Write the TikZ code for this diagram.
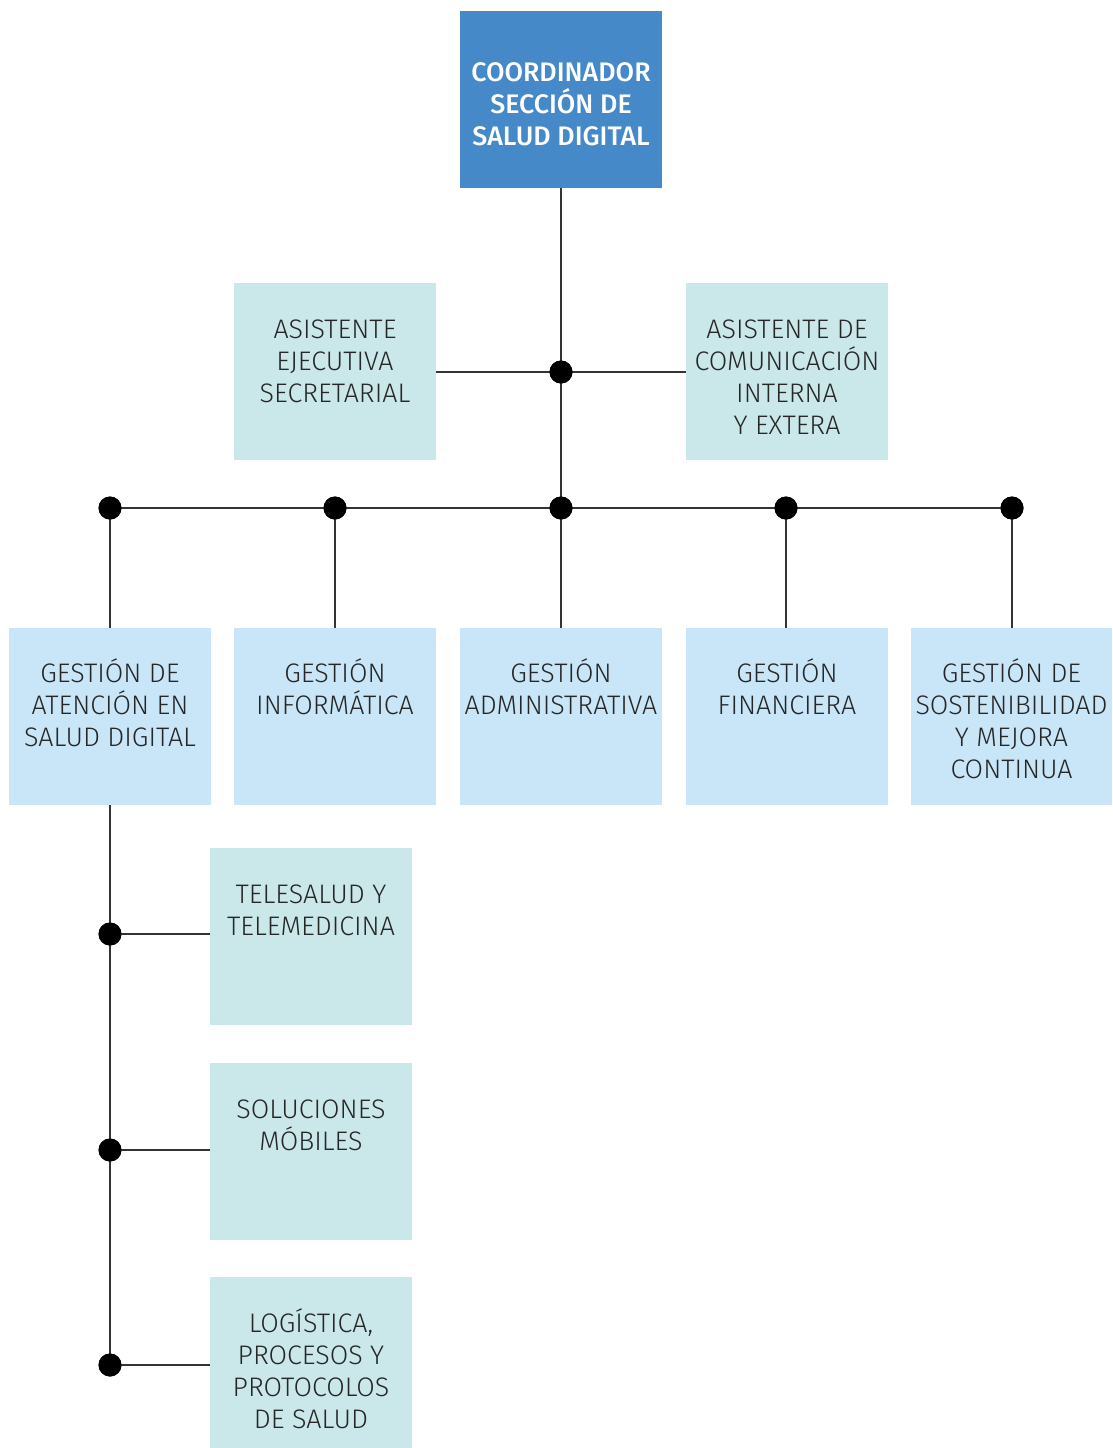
\documentclass[tikz,border=0pt]{standalone}
\usepackage{fontspec}
\setmainfont{Fira Sans}[UprightFont=* Light, BoldFont=* Medium]
\definecolor{topblue}{HTML}{4589C9}
\definecolor{teal}{HTML}{CAE7E9}
\definecolor{lblue}{HTML}{C8E6F8}
\definecolor{linec}{HTML}{333333}
\newcommand\lines[1]{\vtop{\baselineskip=32pt\lineskiplimit=-1000pt\lineskip=0pt\halign{\hfil##\hfil\cr#1\crcr}}}
\begin{document}
\begin{tikzpicture}[x=1pt,y=-1pt,
  bx/.style={minimum width=202pt, minimum height=177pt, inner sep=0pt, anchor=north west, outer sep=0pt},
  topbox/.style={bx, fill=topblue},
  asst/.style={bx, fill=teal},
  gest/.style={bx, fill=lblue},
  txt/.style={anchor=base, inner sep=0pt, font=\fontsize{26.8}{32}\selectfont, text=black!85},
  toptxt/.style={txt, font=\fontsize{26.8}{32}\selectfont\bfseries, text=white},
  conn/.style={draw=linec, line width=1.5pt},
  dot/.style={circle, fill=black, minimum size=23pt, inner sep=0pt}]
\useasboundingbox (0,0) rectangle (1112,1448);
% boxes
\node[topbox] (top) at (460,11) {};
\node[asst] (a1) at (234,283) {};
\node[asst] (a2) at (686,283) {};
\node[gest] (g1) at (9,628) {};
\node[gest] (g2) at (234,628) {};
\node[gest] (g3) at (460,628) {};
\node[gest] (g4) at (686,628) {};
\node[gest, minimum width=201pt] (g5) at (911,628) {};
\node[asst] (s1) at (210,848) {};
\node[asst] (s2) at (210,1063) {};
\node[asst, minimum height=171pt] (s3) at (210,1277) {};
% dots
\node[dot] (j1) at (561,372) {};
\node[dot] (b1) at (110,508) {};
\node[dot] (b2) at (335,508) {};
\node[dot] (b3) at (561,508) {};
\node[dot] (b4) at (786,508) {};
\node[dot] (b5) at (1012,508) {};
\node[dot] (c1) at (110,934) {};
\node[dot] (c2) at (110,1150) {};
\node[dot] (c3) at (110,1365) {};
% connectors
\draw[conn] (top.south) -- (j1.center) -- (b3.center);
\draw[conn] (a1.east |- j1) -- (j1.center) -- (a2.west |- j1);
\draw[conn] (b1.center) -- (b5.center);
\draw[conn] (b1.center) -- (b1 |- g1.north);
\draw[conn] (b2.center) -- (b2 |- g2.north);
\draw[conn] (b3.center) -- (b3 |- g3.north);
\draw[conn] (b4.center) -- (b4 |- g4.north);
\draw[conn] (b5.center) -- (b5 |- g5.north);
\draw[conn] (g1.south -| c1) -- (c3.center);
\draw[conn] (c1.center) -- (c1 -| s1.west);
\draw[conn] (c2.center) -- (c2 -| s2.west);
\draw[conn] (c3.center) -- (c3 -| s3.west);
% dots on top
\foreach \d in {j1,b1,b2,b3,b4,b5,c1,c2,c3} \fill[black] (\d) circle (11.5pt);
% texts
\node[toptxt] (ttop) at ([yshift=-70pt]top.north) {\lines{COORDINADOR\cr SECCIÓN DE\cr SALUD DIGITAL}};
\node[txt] (ta1) at ([yshift=-55pt]a1.north) {\lines{ASISTENTE\cr EJECUTIVA\cr SECRETARIAL}};
\node[txt] (ta2) at ([yshift=-55pt]a2.north) {\lines{ASISTENTE DE\cr COMUNICACIÓN\cr INTERNA\cr Y EXTERA}};
\node[txt] (tg1) at ([yshift=-54pt]g1.north) {\lines{GESTIÓN DE\cr ATENCIÓN EN\cr SALUD DIGITAL}};
\node[txt] (tg2) at ([yshift=-54pt]g2.north) {\lines{GESTIÓN\cr INFORMÁTICA}};
\node[txt] (tg3) at ([yshift=-54pt]g3.north) {\lines{GESTIÓN\cr ADMINISTRATIVA}};
\node[txt] (tg4) at ([yshift=-54pt]g4.north) {\lines{GESTIÓN\cr FINANCIERA}};
\node[txt] (tg5) at ([yshift=-54pt]g5.north) {\lines{GESTIÓN DE\cr SOSTENIBILIDAD\cr Y MEJORA\cr CONTINUA}};
\node[txt] (ts1) at ([yshift=-55pt]s1.north) {\lines{TELESALUD Y\cr TELEMEDICINA}};
\node[txt] (ts2) at ([yshift=-55pt]s2.north) {\lines{SOLUCIONES\cr MÓBILES}};
\node[txt] (ts3) at ([yshift=-55pt]s3.north) {\lines{LOGÍSTICA,\cr PROCESOS Y\cr PROTOCOLOS\cr DE SALUD}};
\end{tikzpicture}
\end{document}
